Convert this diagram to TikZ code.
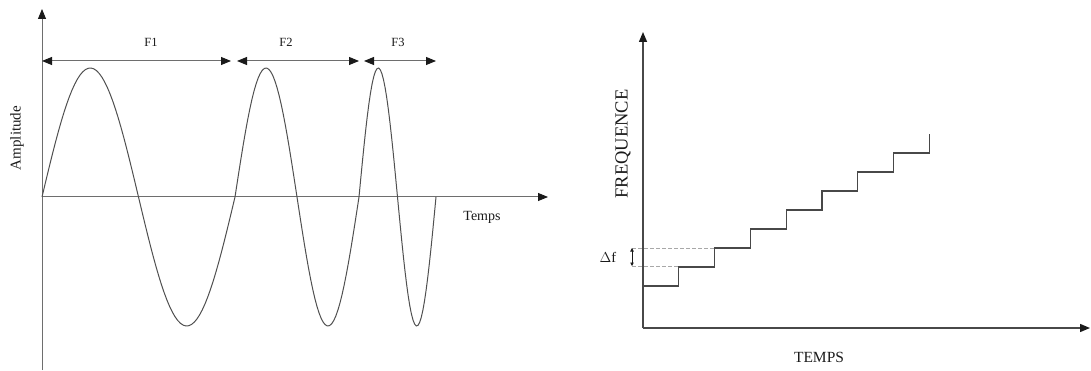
\documentclass[tikz,border=0pt]{standalone}
\usepackage{fontspec}
\setmainfont{Liberation Serif}
\usetikzlibrary{arrows.meta}
\definecolor{ink}{HTML}{1A1A1A}
\definecolor{axisgray}{HTML}{6E6E6E}
\definecolor{wavegray}{HTML}{505050}
\definecolor{stepgray}{HTML}{484848}
\definecolor{dashgray}{HTML}{A8A8A8}
\newcommand{\lbl}[1]{\fontsize{#1}{#1}\selectfont}
\tikzset{
 every node/.append style={text=ink,inner sep=1pt},
 head/.style={Triangle[length=10pt,width=8pt,color=ink]},
 axisline/.style={draw=axisgray,line width=1pt,-{Triangle[length=10pt,width=8pt,color=ink]}},
 axisdark/.style={draw=stepgray,line width=1.4pt,-{Triangle[length=10pt,width=8pt,color=ink]}},
 span/.style={draw=axisgray,line width=1pt,{Triangle[length=10pt,width=8pt,color=ink]}-{Triangle[length=10pt,width=8pt,color=ink]}},
 wave/.style={draw=wavegray,line width=1pt},
 stair/.style={draw=stepgray,line width=1.3pt},
 guide/.style={draw=dashgray,line width=.8pt,dash pattern=on 4pt off 2pt},
 tick/.style={draw=ink,line width=.8pt,{Triangle[length=3.5pt,width=3.5pt]}-{Triangle[length=3.5pt,width=3.5pt]}},
}

\begin{document}
\begin{tikzpicture}[x=1pt,y=-1pt]

\useasboundingbox (0,0) rectangle (1091,371);
% amplitude plot
\coordinate (ao) at (42,197);
\coordinate (abot) at (42,370);
\coordinate (atop) at (42,9);
\coordinate (aend) at (548,197);
\draw[axisline] (abot) -- (atop);
\draw[axisline] (ao) -- (aend);
\draw[wave] plot[domain=0:360,samples=72] ({42+0.53611*\x},{197-129*sin(\x)});
\draw[wave] plot[domain=0:360,samples=60] ({235+0.34444*\x},{197-129*sin(\x)});
\draw[wave] plot[domain=0:360,samples=48] ({359+0.21389*\x},{197-129*sin(\x)});
\coordinate (f1a) at (42,61); \coordinate (f1b) at (231,61);
\coordinate (f2a) at (237,61); \coordinate (f2b) at (359,61);
\coordinate (f3a) at (364,61); \coordinate (f3b) at (436,61);
\draw[span] (f1a) -- (f1b);
\draw[span] (f2a) -- (f2b);
\draw[span] (f3a) -- (f3b);
\node[font=\lbl{12.5}] (f1) at (151,42) {F1};
\node[font=\lbl{12.5}] (f2) at (286,42) {F2};
\node[font=\lbl{12.5}] (f3) at (398,42) {F3};
\node[font=\lbl{14}] (temps) at (482,217) {Temps};
\node[font=\lbl{15},rotate=90] (amplitude) at (17,138) {Amplitude};
% frequency plot
\coordinate (fo) at (643,328);
\coordinate (ftop) at (643,32);
\coordinate (fend) at (1090,328);
\draw[axisdark] (fo) -- (ftop);
\draw[axisdark] (fo) -- (fend);
\draw[stair] (643,286) foreach \i in {1,...,8} { -- ++(35.8,0) -- ++(0,-19) };
\coordinate (dfhi) at (632,248); \coordinate (dflo) at (632,266);
\draw[guide] (dfhi) -- (714,248);
\draw[guide] (dflo) -- (678,266);
\draw[tick] (dfhi) -- (dflo);
\node[font=\lbl{14.5}] (df) at (608,257) {$\Delta$f};
\node[font=\lbl{18.5},rotate=90] (frequence) at (623,144) {FREQUENCE};
\node[font=\lbl{15.5}] (tempsr) at (819,357) {TEMPS};

\end{tikzpicture}
\end{document}
